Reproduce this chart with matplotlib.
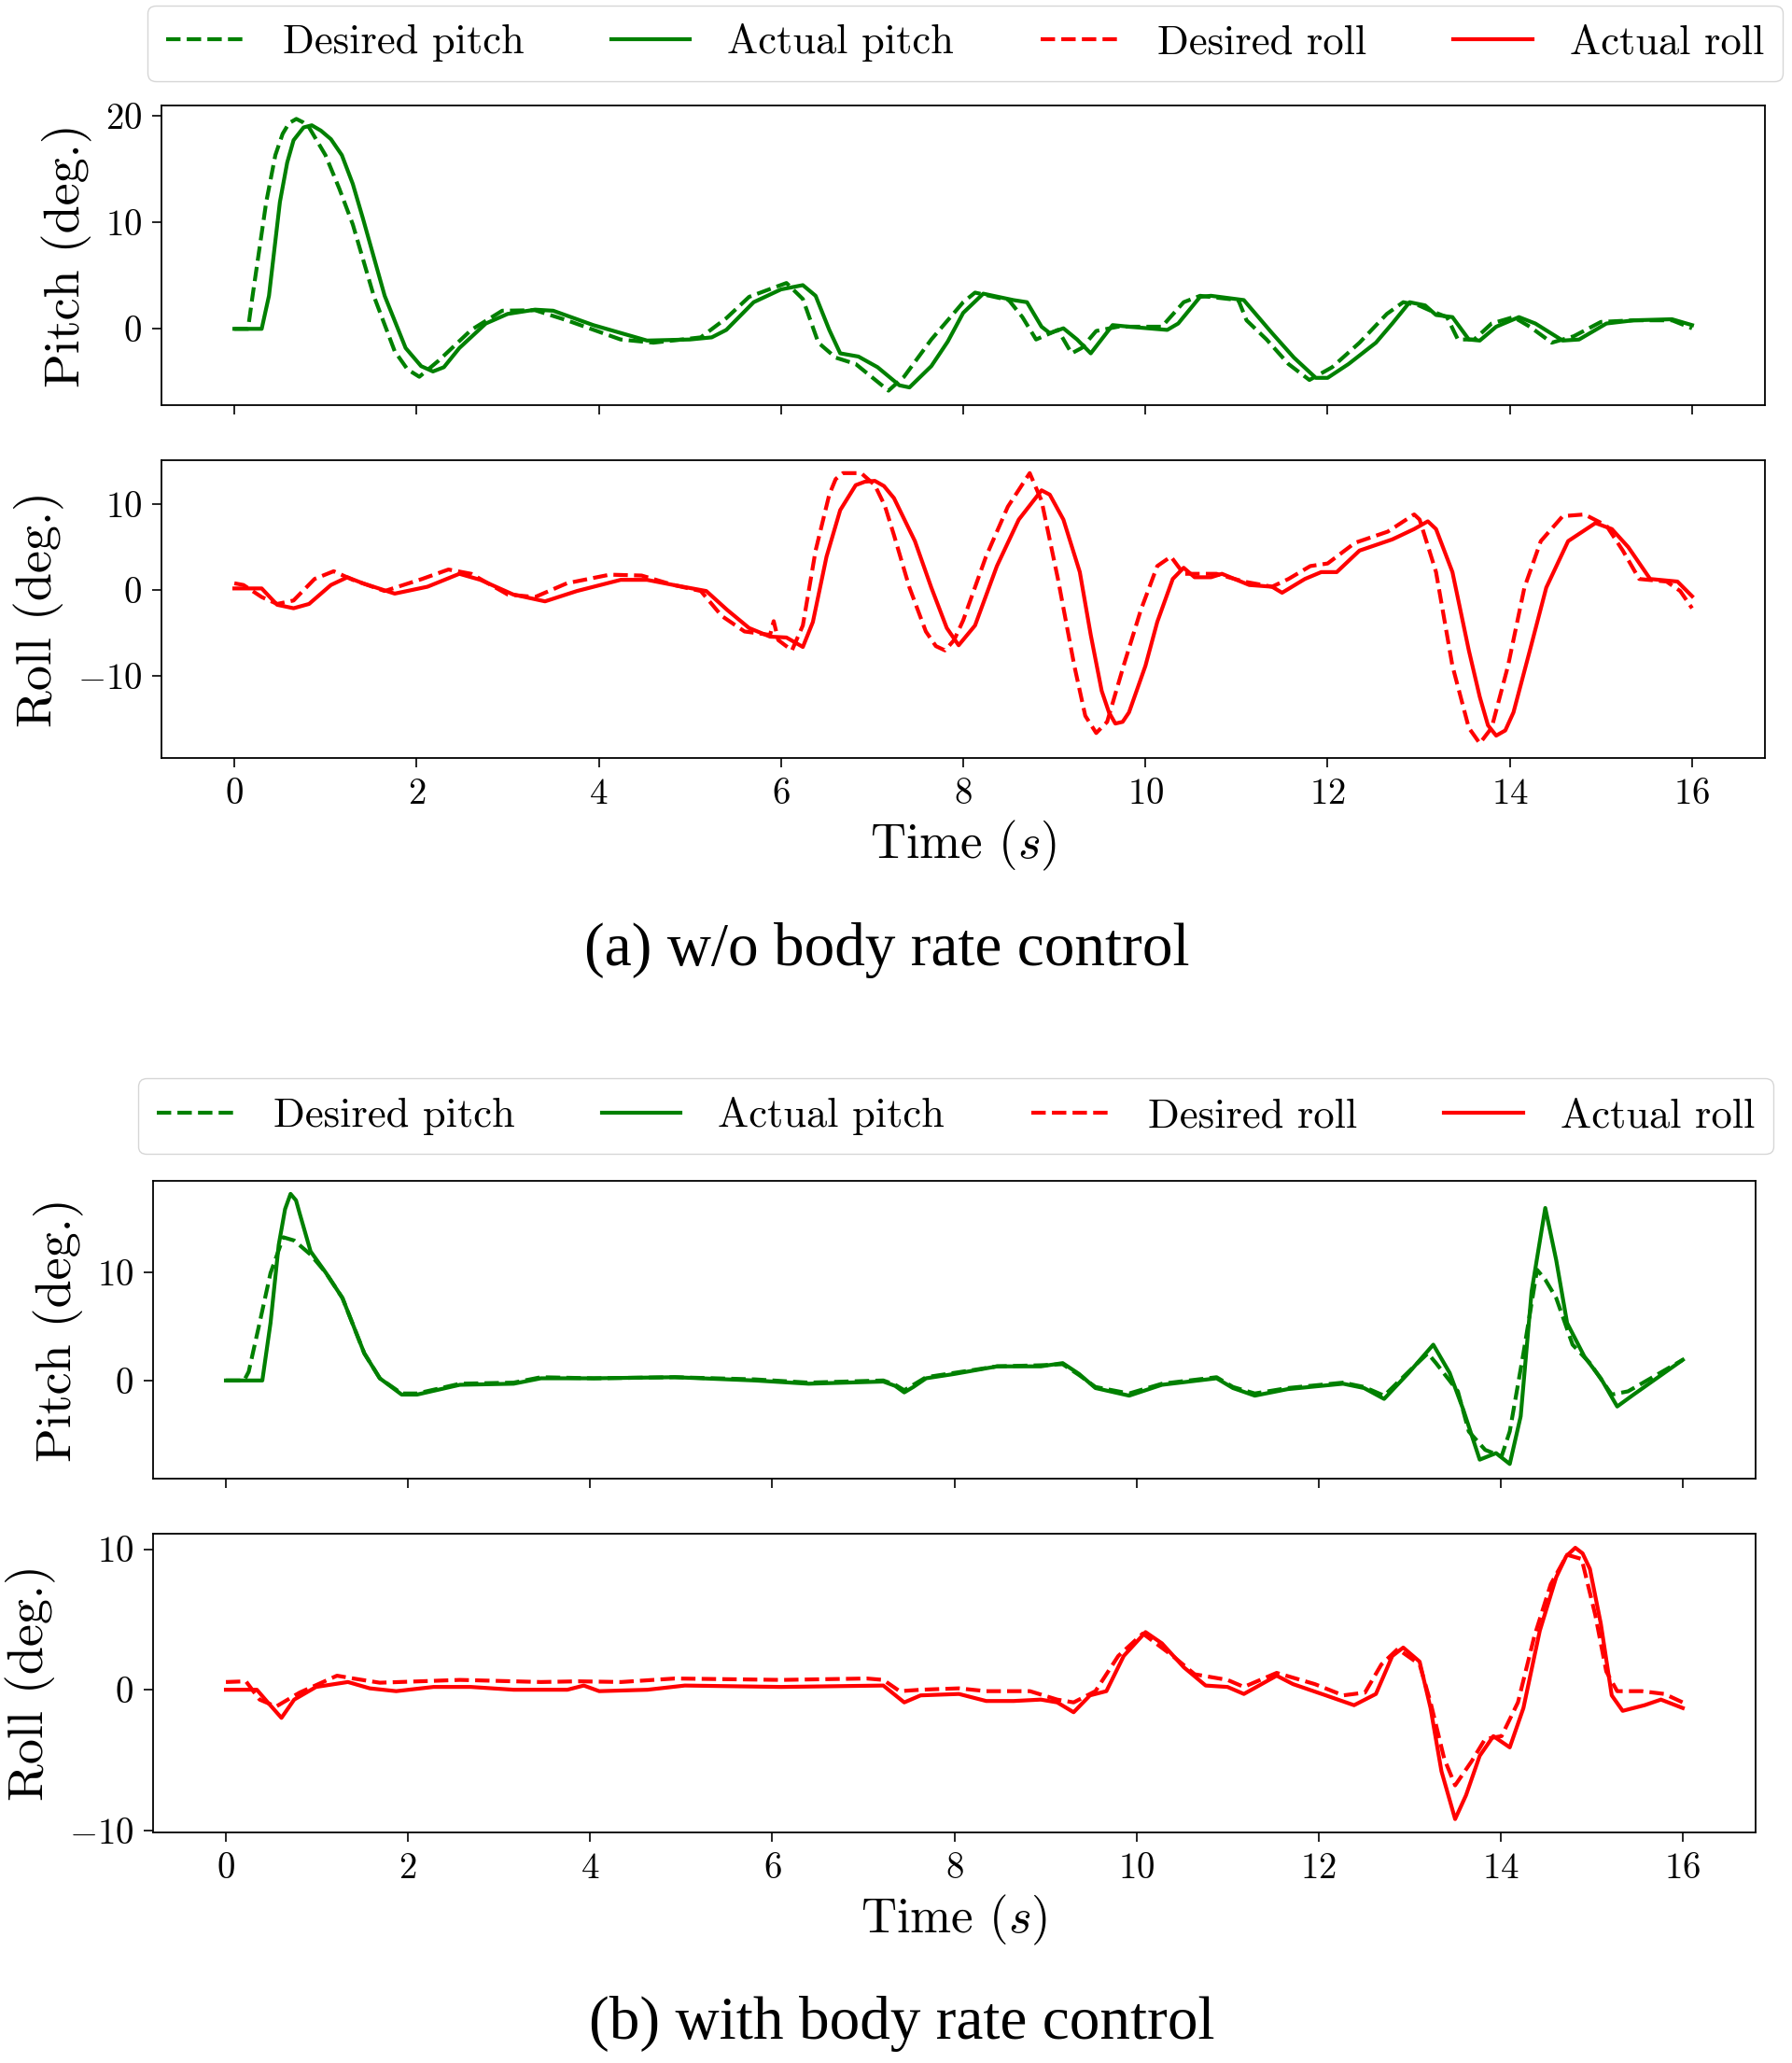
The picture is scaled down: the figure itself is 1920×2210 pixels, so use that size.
import numpy as np
import matplotlib
matplotlib.use("Agg")
import matplotlib.pyplot as plt

plt.rcParams['font.family'] = 'serif'
plt.rcParams['font.serif'] = ['cmr10', 'DejaVu Serif']
plt.rcParams['mathtext.fontset'] = 'cm'
plt.rcParams['axes.formatter.use_mathtext'] = True
plt.rcParams['axes.unicode_minus'] = True

# (time [s], angle [deg])
# (a) w/o body rate control
pitch_des_a = [(0, 0), (0.15, 0), (0.2, 3.1), (0.35, 11.9), (0.45, 16.3), (0.53, 18.3), (0.6, 19.3),
               (0.68, 19.7), (0.75, 19.4), (0.82, 18.9), (1.0, 16.3), (1.15, 13.2), (1.3, 9.8), (1.53, 3.1),
               (1.76, -2.1), (1.9, -3.8), (2.03, -4.5), (2.24, -3.0), (2.6, -0.1), (2.94, 1.7), (3.3, 1.75),
               (3.65, 0.8), (4.24, -1.0), (4.6, -1.3), (5.12, -0.8), (5.4, 1.0), (5.65, 3.0), (5.9, 3.8),
               (6.06, 4.3), (6.24, 2.8), (6.41, -1.3), (6.6, -2.7), (6.82, -3.3), (7.18, -5.8), (7.35, -4.5),
               (7.65, -1.0), (8.0, 2.5), (8.13, 3.4), (8.5, 2.7), (8.65, 1.1), (8.8, -1.0), (9.04, -0.1),
               (9.19, -2.3), (9.3, -1.8), (9.46, -0.2), (9.7, 0.2), (10.18, 0.2), (10.42, 2.5), (10.6, 3.1),
               (11.02, 2.7), (11.11, 0.8), (11.33, -1.0), (11.57, -3.3), (11.8, -4.8), (12.05, -3.6),
               (12.35, -1.3), (12.65, 1.4), (12.83, 2.5), (13.0, 2.2), (13.13, 1.7), (13.31, 1.1),
               (13.43, -1.0), (13.61, -1.0), (13.8, 0.5), (14.04, 1.1), (14.22, 0.2), (14.46, -1.3),
               (14.7, -0.7), (15.0, 0.65), (15.36, 0.8), (15.78, 0.8), (16.0, 0.05)]
pitch_act_a = [(0, 0), (0.3, 0), (0.38, 3.1), (0.5, 11.9), (0.58, 15.6), (0.65, 17.7), (0.76, 18.9),
               (0.85, 19.1), (0.95, 18.6), (1.06, 17.8), (1.18, 16.3), (1.3, 13.6), (1.41, 10.4), (1.65, 3.1),
               (1.88, -1.8), (2.05, -3.5), (2.18, -4.0), (2.3, -3.6), (2.47, -1.8), (2.76, 0.5), (3.0, 1.4),
               (3.3, 1.8), (3.5, 1.7), (3.94, 0.35), (4.53, -1.1), (5.0, -1.0), (5.24, -0.8), (5.4, -0.1),
               (5.7, 2.5), (6.0, 3.7), (6.24, 4.1), (6.38, 3.1), (6.53, -0.1), (6.65, -2.3), (6.85, -2.6),
               (7.06, -3.6), (7.3, -5.3), (7.41, -5.5), (7.65, -3.5), (7.83, -1.2), (8.0, 1.5), (8.22, 3.3),
               (8.55, 2.7), (8.7, 2.5), (8.86, 0.2), (8.95, -0.4), (9.1, 0.05), (9.25, -1.0), (9.4, -2.3),
               (9.64, 0.35), (9.82, 0.2), (10.24, -0.1), (10.36, 0.5), (10.6, 3.0), (10.72, 3.1),
               (11.08, 2.7), (11.39, -0.4), (11.63, -2.7), (11.87, -4.6), (12.0, -4.6), (12.23, -3.3),
               (12.53, -1.3), (12.71, 0.5), (12.9, 2.5), (13.07, 2.2), (13.19, 1.3), (13.37, 1.1),
               (13.55, -1.0), (13.67, -1.1), (13.85, 0.2), (14.1, 1.1), (14.28, 0.5), (14.58, -1.1),
               (14.76, -1.0), (15.06, 0.5), (15.36, 0.8), (15.78, 0.9), (16.0, 0.35)]
roll_des_a = [(0, 0.8), (0.1, 0.6), (0.3, -0.8), (0.47, -1.6), (0.65, -1.2), (0.88, 1.3), (1.09, 2.2),
              (1.3, 1.2), (1.65, -0.1), (2.06, 1.3), (2.35, 2.4), (2.6, 1.9), (3.0, -0.5), (3.3, -0.8),
              (3.65, 0.8), (4.12, 1.8), (4.47, 1.7), (4.82, 0.6), (5.12, -0.1), (5.35, -3.0), (5.6, -4.8),
              (5.88, -5.2), (5.92, -3.6), (5.97, -5.8), (6.12, -7.0), (6.24, -4.1), (6.38, 4.6), (6.53, 11.1),
              (6.6, 12.9), (6.68, 13.6), (6.88, 13.6), (7.03, 12.2), (7.14, 9.8), (7.24, 6.4), (7.41, 0.3),
              (7.59, -4.8), (7.7, -6.5), (7.8, -7.0), (7.9, -5.8), (8.0, -3.5), (8.25, 3.9), (8.49, 9.7),
              (8.73, 13.6), (8.86, 10.4), (9.04, 1.3), (9.22, -8.8), (9.34, -14.6), (9.46, -16.6),
              (9.58, -15.3), (9.76, -8.8), (9.95, -2.3), (10.13, 2.8), (10.28, 3.9), (10.42, 1.9),
              (10.78, 1.9), (11.08, 1.0), (11.39, 0.4), (11.57, 1.3), (11.81, 2.8), (12.0, 3.1), (12.3, 5.5),
              (12.66, 6.8), (12.95, 8.8), (13.01, 8.2), (13.19, 2.1), (13.37, -8.8), (13.55, -16.0),
              (13.67, -17.8), (13.8, -16.0), (13.98, -8.8), (14.16, 0.3), (14.34, 5.7), (14.58, 8.6),
              (14.82, 8.8), (15.06, 7.5), (15.24, 4.6), (15.42, 1.3), (15.72, 1.0), (15.87, -0.1), (16.0, -2.1)]
roll_act_a = [(0, 0.2), (0.3, 0.2), (0.47, -1.7), (0.65, -2.1), (0.82, -1.6), (1.06, 0.6), (1.24, 1.5),
              (1.41, 0.8), (1.76, -0.4), (2.12, 0.4), (2.47, 1.9), (2.7, 1.2), (3.06, -0.5), (3.41, -1.3),
              (3.76, -0.1), (4.24, 1.2), (4.53, 1.2), (4.82, 0.6), (5.18, -0.1), (5.41, -2.3), (5.65, -4.4),
              (5.88, -5.4), (6.06, -5.5), (6.24, -6.6), (6.35, -3.7), (6.5, 3.9), (6.65, 9.3), (6.82, 12.2),
              (6.92, 12.6), (7.03, 12.7), (7.13, 12.1), (7.24, 10.7), (7.47, 5.7), (7.65, 0.3), (7.82, -4.4),
              (7.95, -6.4), (8.13, -4.1), (8.37, 2.8), (8.61, 8.2), (8.86, 11.6), (8.95, 11.1), (9.1, 8.2),
              (9.28, 2.1), (9.4, -5.2), (9.52, -11.7), (9.6, -14.2), (9.67, -15.5), (9.75, -15.3),
              (9.82, -14.2), (10.0, -8.8), (10.13, -3.7), (10.3, 1.3), (10.42, 2.6), (10.54, 1.5),
              (10.72, 1.5), (10.84, 1.9), (11.14, 0.6), (11.39, 0.4), (11.5, -0.3), (11.75, 1.3),
              (11.93, 2.1), (12.1, 2.1), (12.35, 4.6), (12.71, 5.9), (12.95, 7.1), (13.1, 8.0), (13.19, 7.1),
              (13.37, 2.1), (13.55, -7.0), (13.67, -12.4), (13.76, -15.7), (13.85, -16.9), (13.95, -16.3),
              (14.04, -14.2), (14.22, -7.0), (14.4, 0.3), (14.64, 5.7), (14.94, 7.8), (15.12, 7.1),
              (15.3, 5.0), (15.54, 1.3), (15.84, 1.0), (16.0, -0.7)]

# (b) with body rate control
pitch_des_b = [(0, 0), (0.2, 0), (0.25, 0.8), (0.37, 5.3), (0.49, 9.9), (0.63, 13.2), (0.75, 12.9),
               (0.93, 11.6), (1.1, 9.9), (1.28, 7.6), (1.52, 2.5), (1.69, 0.2), (1.93, -1.2), (2.1, -1.2),
               (2.57, -0.3), (3.16, -0.2), (3.46, 0.3), (4.04, 0.2), (4.93, 0.3), (5.81, 0.1), (6.4, -0.2),
               (7.22, 0.0), (7.35, -0.4), (7.45, -0.9), (7.55, -0.4), (7.69, 0.3), (8.0, 0.7), (8.47, 1.3),
               (8.95, 1.4), (9.19, 1.5), (9.37, 0.5), (9.55, -0.6), (9.92, -1.2), (10.28, -0.3), (10.58, 0.0),
               (10.88, 0.3), (11.06, -0.6), (11.3, -1.2), (11.66, -0.7), (12.27, -0.2), (12.5, -0.6),
               (12.72, -1.4), (13.05, 1.3), (13.2, 2.5), (13.29, 1.6), (13.53, -1.0), (13.65, -4.7),
               (13.83, -6.4), (14.01, -7.0), (14.1, -4.7), (14.25, 2.5), (14.4, 10.2), (14.49, 9.3),
               (14.61, 7.6), (14.79, 3.3), (14.98, 1.6), (15.22, -1.3), (15.4, -1.0), (16.0, 1.9)]
pitch_act_b = [(0, 0), (0.4, 0), (0.49, 5.3), (0.58, 12.5), (0.65, 15.8), (0.71, 17.2), (0.77, 16.6),
               (0.81, 15.4), (0.93, 11.9), (1.1, 9.9), (1.28, 7.6), (1.52, 2.5), (1.69, 0.2), (1.93, -1.3),
               (2.1, -1.3), (2.57, -0.4), (3.16, -0.3), (3.46, 0.2), (4.04, 0.2), (4.93, 0.3), (5.81, 0.0),
               (6.4, -0.3), (7.22, -0.1), (7.35, -0.5), (7.45, -1.1), (7.55, -0.6), (7.69, 0.2), (8.0, 0.6),
               (8.47, 1.3), (8.95, 1.3), (9.19, 1.6), (9.37, 0.6), (9.55, -0.7), (9.92, -1.4), (10.28, -0.4),
               (10.58, -0.1), (10.88, 0.2), (11.06, -0.7), (11.3, -1.4), (11.66, -0.8), (12.27, -0.3),
               (12.5, -0.7), (12.72, -1.7), (12.99, 0.7), (13.26, 3.3), (13.44, 0.7), (13.59, -2.7),
               (13.77, -7.3), (13.95, -6.7), (14.1, -7.7), (14.22, -3.3), (14.34, 8.2), (14.49, 15.9),
               (14.61, 11.1), (14.73, 5.3), (14.92, 2.2), (15.1, 0.2), (15.28, -2.4), (15.46, -1.3), (16.0, 1.9)]
roll_des_b = [(0, 0.55), (0.22, 0.6), (0.37, -0.7), (0.55, -1.2), (0.81, -0.2), (1.22, 1.0), (1.4, 0.8),
              (1.69, 0.5), (2.57, 0.7), (3.46, 0.55), (3.87, 0.6), (4.34, 0.55), (4.93, 0.8), (6.1, 0.7),
              (7.04, 0.8), (7.22, 0.7), (7.4, -0.1), (7.63, 0.0), (8.05, 0.1), (8.35, -0.1), (8.83, -0.1),
              (9.13, -0.7), (9.31, -0.9), (9.55, -0.1), (9.8, 2.4), (10.07, 4.0), (10.4, 2.4), (10.64, 1.1),
              (11.0, 0.7), (11.18, 0.2), (11.54, 1.2), (11.96, 0.4), (12.27, -0.4), (12.51, -0.2),
              (12.69, 1.8), (12.87, 2.9), (13.11, 1.8), (13.23, -0.9), (13.38, -4.9), (13.5, -6.8),
              (13.68, -5.1), (13.83, -3.5), (14.01, -3.3), (14.19, -0.9), (14.37, 3.8), (14.55, 7.5),
              (14.73, 9.6), (14.89, 9.3), (15.04, 5.3), (15.16, 1.3), (15.28, -0.1), (15.55, -0.1),
              (15.8, -0.3), (16.0, -0.9)]
roll_act_b = [(0, 0), (0.34, 0), (0.46, -0.9), (0.61, -2.0), (0.75, -0.7), (0.99, 0.2), (1.34, 0.55),
              (1.58, 0.1), (1.87, -0.1), (2.28, 0.2), (2.69, 0.2), (3.16, 0.0), (3.75, 0.0), (3.93, 0.3),
              (4.1, -0.1), (4.63, 0.0), (5.04, 0.3), (6.1, 0.2), (7.22, 0.3), (7.45, -0.9), (7.63, -0.4),
              (8.05, -0.3), (8.35, -0.8), (8.65, -0.8), (8.95, -0.7), (9.13, -0.9), (9.31, -1.6),
              (9.49, -0.4), (9.67, -0.1), (9.86, 2.4), (10.1, 4.1), (10.28, 3.3), (10.52, 1.6), (10.76, 0.3),
              (11.0, 0.2), (11.18, -0.3), (11.54, 1.0), (11.72, 0.4), (12.08, -0.4), (12.39, -1.1),
              (12.63, -0.3), (12.81, 2.4), (12.93, 3.0), (13.11, 2.0), (13.23, -1.3), (13.35, -5.8),
              (13.5, -9.2), (13.62, -7.5), (13.77, -4.7), (13.92, -3.3), (14.1, -4.1), (14.25, -1.3),
              (14.43, 4.2), (14.61, 8.0), (14.72, 9.5), (14.82, 10.1), (14.9, 9.7), (14.98, 8.6), (15.1, 4.7),
              (15.22, -0.4), (15.34, -1.5), (15.58, -1.1), (15.76, -0.7), (16.0, -1.3)]

labels = ['Desired pitch', 'Actual pitch', 'Desired roll', 'Actual roll']
captions = ['(a) w/o body rate control', '(b) with body rate control']

W, H = 1920, 2210
fig = plt.figure(figsize=(W / 100, H / 100), dpi=100)


def px(l, t, r, b):
    return [l / W, 1 - b / H, (r - l) / W, (b - t) / H]


def style(ax, yticks, ylim):
    ax.set_xlim(-0.8, 16.8)
    ax.set_ylim(*ylim)
    ax.set_yticks(yticks)
    ax.set_xticks(range(0, 17, 2))
    ax.tick_params(labelsize=28, length=7, width=1.2, pad=8)
    for s in ax.spines.values():
        s.set_linewidth(1.3)


def panel(top, left, right, pdes, pact, rdes, ract, lims, pyt, ryt, leg_c, leg_y, cap_x, cap_y, cap):
    axp = fig.add_axes(px(left, top[0], right, top[1]))
    axr = fig.add_axes(px(left, top[2], right, top[3]))
    lw = 3.0
    h = []
    for ax, des, act, c in [(axp, pdes, pact, 'green'), (axr, rdes, ract, 'red')]:
        d = np.array(des)
        a = np.array(act)
        h += ax.plot(d[:, 0], d[:, 1], '--', color=c, lw=lw)
        h += ax.plot(a[:, 0], a[:, 1], '-', color=c, lw=lw)
    style(axp, pyt, lims[0])
    style(axr, ryt, lims[1])
    axp.tick_params(labelbottom=False)
    axp.set_ylabel('Pitch (deg.)', fontsize=39, labelpad=10)
    axr.set_ylabel('Roll (deg.)', fontsize=39, labelpad=10)
    axr.set_xlabel('Time $(s)$', fontsize=38, labelpad=6)
    fig.legend(h, labels, loc='center', bbox_to_anchor=(leg_c / W, 1 - leg_y / H), ncol=4,
               fontsize=32, handlelength=1.9, handletextpad=0.9, columnspacing=2.1,
               borderpad=0.45)
    fig.text(cap_x / W, 1 - cap_y / H, cap, ha='center', va='center',
             fontsize=47, family='Liberation Serif')


panel((113, 434, 493, 812), 173, 1891, pitch_des_a, pitch_act_a, roll_des_a, roll_act_a,
      [(-7.16, 20.96), (-19.5, 15.1)], [0, 10, 20], [-10, 0, 10], 1034, 46, 950, 1018, captions[0])
panel((1265, 1584, 1643, 1963), 164, 1881, pitch_des_b, pitch_act_b, roll_des_b, roll_act_b,
      [(-9.05, 18.4), (-10.15, 11.1)], [0, 10], [-10, 0, 10], 1024, 1196, 966, 2168, captions[1])

fig.savefig('out.png', dpi=100)
